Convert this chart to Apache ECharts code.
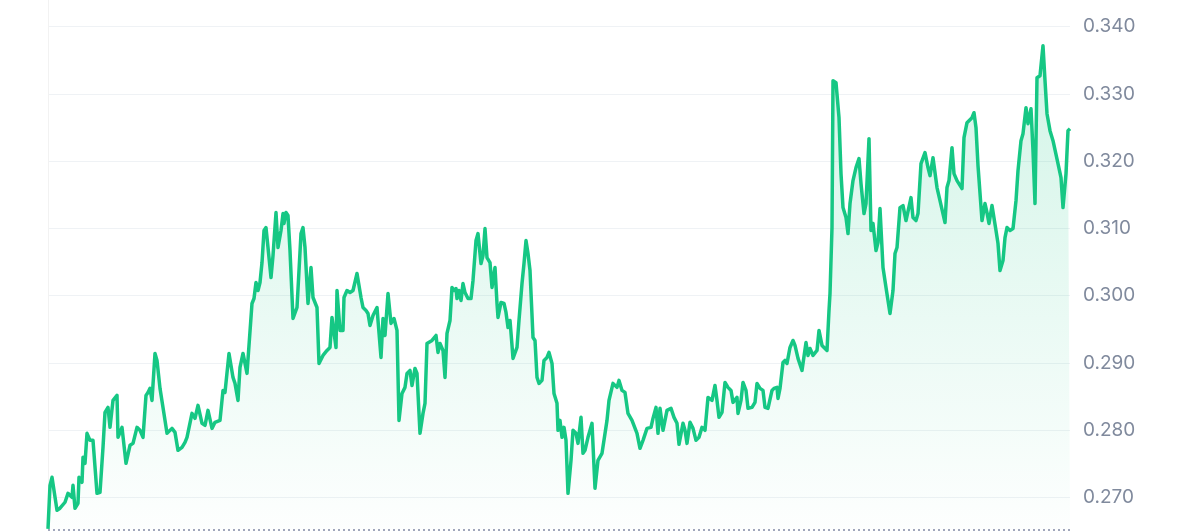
<!DOCTYPE html>
<html>
<head>
<meta charset="utf-8">
<script src="https://cdn.jsdelivr.net/npm/echarts@6/dist/echarts.min.js"></script>
<style>
html,body{margin:0;padding:0;background:#fff;}
#chart{width:1200px;height:531px;}
</style>
</head>
<body>
<div id="chart"></div>
<script>
// time steps (~10-minute units) and prices
const timeSteps = [0,2,4,9,12,17,20,24,25,27,30,31,34,35,37,39,42,45,49,52,55,57,60,62,65,69,70,74,78,82,85,89,92,95,98,100,102,104,107,109,112,115,119,124,127,130,134,137,139,144,147,150,154,157,160,164,167,172,175,177,181,185,187,190,192,195,199,204,206,208,210,212,214,216,218,220,223,225,228,230,233,235,236,238,240,242,245,249,253,255,257,260,263,265,269,271,275,279,282,284,286,288,289,292,295,296,299,302,305,309,313,315,318,320,322,325,329,330,333,335,337,340,343,346,349,351,354,357,359,362,364,367,369,372,375,377,379,384,388,390,392,395,397,399,402,404,406,408,409,411,413,415,417,420,423,425,428,430,433,435,437,439,442,444,447,449,450,453,456,458,460,462,464,465,469,471,474,476,478,480,482,485,487,489,491,494,496,499,501,504,506,509,510,512,514,516,518,520,523,525,528,530,533,535,537,540,544,547,550,554,559,561,565,569,571,574,577,580,584,589,592,595,599,603,605,608,610,612,615,619,623,626,629,631,635,637,639,642,645,648,651,654,657,660,664,667,669,671,674,677,680,683,685,689,690,693,695,698,700,704,707,709,712,715,717,720,724,726,729,730,732,735,737,739,742,745,747,750,754,758,760,762,765,769,771,774,777,779,781,782,784,785,788,791,793,795,798,800,802,805,808,811,813,816,818,821,823,825,828,830,832,835,838,842,845,847,849,852,855,858,863,865,868,870,873,877,880,882,885,889,892,897,899,901,904,906,909,914,916,919,924,926,928,930,934,937,939,941,944,948,950,952,955,957,959,962,965,968,970,973,975,978,980,983,985,987,989,992,995,997,999,1002,1005,1010,1013,1015,1018,1020,1022];
const prices = [0.26530,0.27178,0.27297,0.26807,0.26837,0.26926,0.27059,0.27000,0.27178,0.26837,0.26911,0.27297,0.27223,0.27594,0.27505,0.27951,0.27847,0.27847,0.27059,0.27074,0.27743,0.28263,0.28337,0.28040,0.28441,0.28516,0.27892,0.28040,0.27505,0.27773,0.27802,0.28040,0.27996,0.27892,0.28516,0.28560,0.28620,0.28441,0.29140,0.29036,0.28620,0.28337,0.27951,0.28025,0.27966,0.27698,0.27743,0.27817,0.27892,0.28248,0.28174,0.28367,0.28100,0.28070,0.28293,0.28025,0.28115,0.28144,0.28590,0.28560,0.29140,0.28783,0.28694,0.28441,0.28932,0.29140,0.28843,0.29883,0.29957,0.30195,0.30076,0.30195,0.30492,0.30968,0.31012,0.30715,0.30269,0.30596,0.31235,0.30715,0.30968,0.31220,0.31072,0.31235,0.31191,0.30670,0.29660,0.29823,0.30923,0.31012,0.30715,0.29883,0.30418,0.29972,0.29823,0.28991,0.29110,0.29184,0.29229,0.29675,0.29675,0.29229,0.30076,0.29482,0.29482,0.29972,0.30076,0.30046,0.30076,0.30329,0.29972,0.29823,0.29779,0.29734,0.29556,0.29705,0.29823,0.29630,0.29080,0.29660,0.29407,0.30031,0.29586,0.29660,0.29482,0.28144,0.28545,0.28635,0.28843,0.28887,0.28664,0.28917,0.28843,0.27951,0.28248,0.28397,0.29288,0.29333,0.29407,0.29155,0.29288,0.29184,0.28783,0.29437,0.29630,0.30121,0.30076,0.30106,0.29957,0.30076,0.29927,0.30180,0.30046,0.29957,0.29957,0.30225,0.30819,0.30923,0.30477,0.30596,0.30997,0.30566,0.30492,0.30121,0.30418,0.29883,0.29675,0.29898,0.29883,0.29749,0.29526,0.29630,0.29259,0.29066,0.29229,0.29630,0.30180,0.30477,0.30819,0.30626,0.30373,0.29378,0.29333,0.28783,0.28694,0.28739,0.29036,0.29080,0.29155,0.28991,0.28545,0.28397,0.27996,0.28144,0.27892,0.28040,0.27847,0.27059,0.27550,0.27996,0.27951,0.27802,0.28189,0.27654,0.27698,0.27892,0.28100,0.27134,0.27550,0.27654,0.28144,0.28441,0.28694,0.28635,0.28739,0.28590,0.28560,0.28248,0.28144,0.27951,0.27728,0.27847,0.28025,0.28040,0.28174,0.28337,0.27951,0.28323,0.27996,0.28293,0.28323,0.28189,0.28100,0.27788,0.28100,0.27996,0.27802,0.28115,0.28025,0.27847,0.27892,0.28040,0.27996,0.28486,0.28441,0.28664,0.28441,0.28189,0.28263,0.28709,0.28635,0.28590,0.28412,0.28486,0.28248,0.28441,0.28709,0.28590,0.28323,0.28337,0.28412,0.28694,0.28620,0.28590,0.28337,0.28323,0.28590,0.28620,0.28635,0.28471,0.28620,0.29006,0.29036,0.28991,0.29229,0.29333,0.29259,0.29066,0.28887,0.29303,0.29110,0.29214,0.29110,0.29184,0.29482,0.29259,0.29214,0.29184,0.29779,0.30031,0.31012,0.33197,0.33167,0.32647,0.31815,0.31309,0.31161,0.30923,0.31369,0.31711,0.31904,0.32038,0.31666,0.31220,0.31369,0.32335,0.30968,0.31072,0.30670,0.30789,0.31295,0.30418,0.30121,0.29734,0.30076,0.30626,0.30715,0.31309,0.31339,0.31116,0.31458,0.31161,0.31116,0.31220,0.31963,0.32127,0.31904,0.31785,0.32052,0.31607,0.31413,0.31087,0.31607,0.31711,0.32201,0.31815,0.31711,0.31592,0.32350,0.32573,0.32647,0.32721,0.32498,0.31934,0.31116,0.31369,0.31235,0.31072,0.31339,0.30968,0.30774,0.30373,0.30522,0.30864,0.31012,0.30968,0.30997,0.31413,0.31859,0.32305,0.32409,0.32795,0.32558,0.32780,0.32156,0.31369,0.33241,0.33271,0.33717,0.33197,0.32706,0.32454,0.32305,0.31963,0.31755,0.31309,0.31815,0.32454,0.32483];
const yMin = 0.26, yMax = 0.35, yStep = 0.01;
const baseline = 0.26524;

const seriesData = timeSteps.map((t, i) => [t, prices[i]]);

const chart = echarts.init(document.getElementById('chart'), null, {renderer: 'canvas'});
chart.setOption({
  animation: false,
  backgroundColor: '#ffffff',
  grid: {left: 48, right: 130, top: -40.5, bottom: -33.5, outerBoundsMode: 'none', containLabel: false},
  xAxis: {
    type: 'value', min: 0, max: timeSteps[timeSteps.length - 1],
    show: false
  },
  yAxis: [{
    type: 'value', position: 'right', min: yMin, max: yMax, interval: yStep,
    axisLine: {show: true, lineStyle: {color: '#eff2f5', width: 1}},
    axisTick: {show: false},
    axisLabel: {
      margin: 13, color: '#808a9d', fontSize: 19, fontFamily: 'Inter',
      formatter: v => v.toFixed(3)
    },
    splitLine: {show: true, lineStyle: {color: '#eff2f5', width: 1}}
  }, {
    type: 'value', position: 'left', min: yMin, max: yMax, interval: yStep,
    axisLine: {show: true, lineStyle: {color: '#f2f2f2', width: 1}},
    axisTick: {show: false}, axisLabel: {show: false}, splitLine: {show: false}
  }],
  series: [{
    type: 'line',
    yAxisIndex: 0,
    data: seriesData,
    showSymbol: false,
    symbol: 'none',
    lineStyle: {color: '#16c784', width: 3.5, join: 'round'},
    areaStyle: {
      origin: baseline,
      color: new echarts.graphic.LinearGradient(0, 0, 0, 1, [
        {offset: 0, color: 'rgba(22,199,132,0.28)'},
        {offset: 1, color: 'rgba(22,199,132,0.01)'}
      ])
    },
    markLine: {
      silent: true, symbol: ['none', 'none'], animation: false, precision: 6,
      label: {show: false},
      lineStyle: {color: '#a1a7bb', width: 2, type: [2, 3]},
      data: [{yAxis: baseline}]
    }
  }]
});
</script>
</body>
</html>
